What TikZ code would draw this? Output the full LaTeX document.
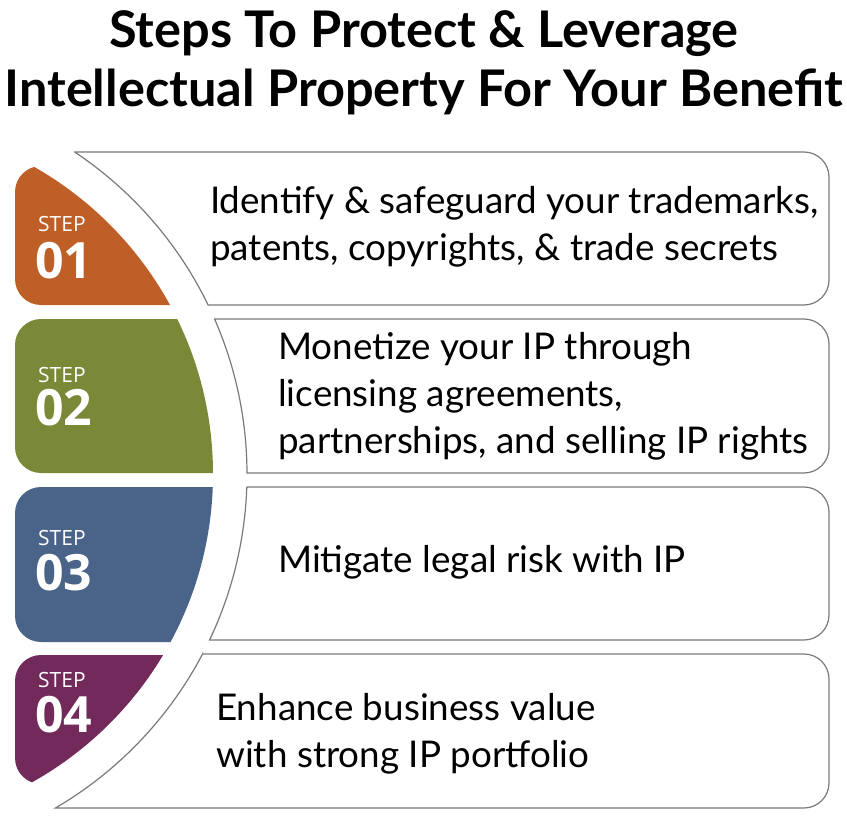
\documentclass[tikz,border=0pt]{standalone}
\usepackage{fontspec}
\usetikzlibrary{calc}
\setmainfont{Lato}
\newfontfamily\stepfont{Open Sans}
\definecolor{cstepa}{HTML}{BE5F28}
\definecolor{cstepb}{HTML}{7A8937}
\definecolor{cstepc}{HTML}{4A6388}
\definecolor{cstepd}{HTML}{722A5A}
\definecolor{cborder}{HTML}{7A7A7A}
\begin{document}
\begin{tikzpicture}[x=1pt,y=-1pt,
  boxline/.style={draw=cborder,line width=1.2pt,fill=white},
  steplbl/.style={anchor=base west,inner sep=0pt,text=white,font=\stepfont\fontsize{21}{21}\selectfont},
  stepnum/.style={anchor=base west,inner sep=0pt,text=white,font=\stepfont\bfseries\fontsize{50}{50}\selectfont},
  bodytext/.style={anchor=base west,inner sep=0pt,align=left,font=\fontsize{36.8}{47}\selectfont},
  titletext/.style={anchor=base,inner sep=0pt,font=\bfseries\fontsize{50.5}{60}\selectfont}]
\useasboundingbox (0,0) rectangle (847,840);
\coordinate (ctr) at (-140,474);
% title
\node[titletext] (t1) at (424,48) {Steps To Protect \& Leverage};
\node[titletext] (t2) at (424,107) {Intellectual Property For Your Benefit};
% boxes
\foreach \t/\b in {152/305, 319/473, 487/640, 654/808}{
  \pgfmathsetmacro{\at}{asin((\t-474)/387)}
  \pgfmathsetmacro{\ab}{asin((\b-474)/387)}
  \pgfmathsetmacro{\xt}{-140+387*cos(\at)}
  \draw[boxline] (\xt,\t) -- (804,\t) arc[start angle=-90,end angle=0,radius=25]
     -- (829,\b-25) arc[start angle=0,end angle=90,radius=25]
     -- ($(ctr)+(\ab:387)$) arc[start angle=\ab,end angle=\at,radius=387] -- cycle;
}
% step shapes
\foreach \t/\b/\c in {166/305/cstepa, 319/473/cstepb, 487/642/cstepc, 655/784/cstepd}{
  \begin{scope}
    \clip (ctr) circle[radius=353];
    \fill[\c,rounded corners=26] (15,\t) rectangle (300,\b);
  \end{scope}
}
\node[steplbl] (s1) at (38,232) {STEP};
\node[stepnum] (n1) at (35,278) {01};
\node[steplbl] (s2) at (38,382) {STEP};
\node[stepnum] (n2) at (35,425) {02};
\node[steplbl] (s3) at (38,545) {STEP};
\node[stepnum] (n3) at (35,590) {03};
\node[steplbl] (s4) at (38,687) {STEP};
\node[stepnum] (n4) at (35,732) {04};
% texts (base anchor = last line)
\node[bodytext] (b1) at (210,260) {Identify \& safeguard your trademarks,\\patents, copyrights, \& trade secrets};
\node[bodytext] (b2) at (278,453) {Monetize your IP through\\licensing agreements,\\partnerships, and selling IP rights};
\node[bodytext] (b3) at (278,572) {Mitigate legal risk with IP};
\node[bodytext] (b4) at (216,767) {Enhance business value\\with strong IP portfolio};
\end{tikzpicture}
\end{document}
